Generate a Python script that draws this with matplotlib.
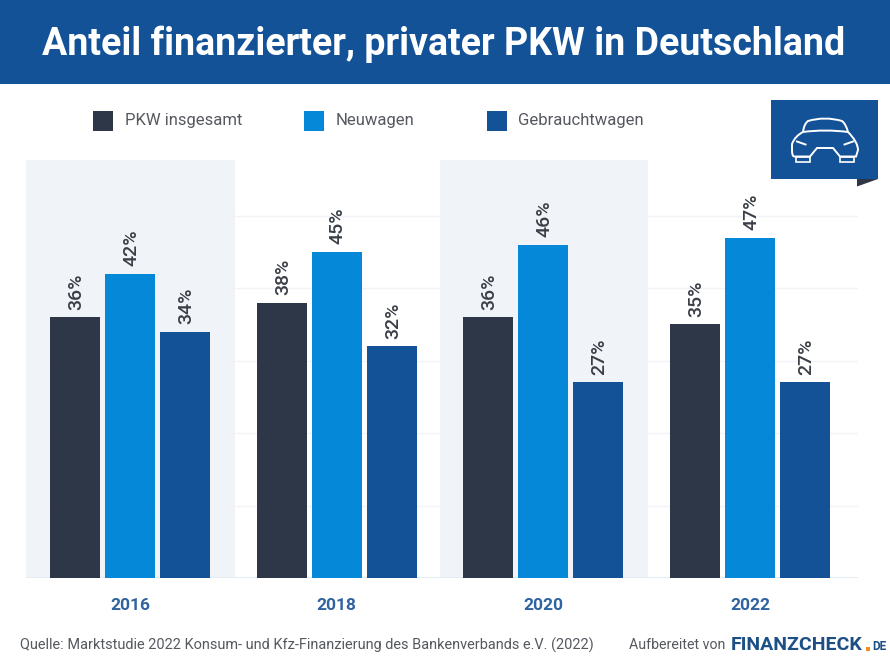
import matplotlib
matplotlib.use("Agg")
import matplotlib.pyplot as plt
import numpy as np
from matplotlib.patches import Rectangle, Polygon, PathPatch
from matplotlib.path import Path

plt.rcParams['font.family'] = ['Roboto', 'DejaVu Sans']

years = ['2016', '2018', '2020', '2022']
gesamt = [36, 38, 36, 35]
neuwagen = [42, 45, 46, 47]
gebraucht = [34, 32, 27, 27]
series_names = ['PKW insgesamt', 'Neuwagen', 'Gebrauchtwagen']
grid_values = [10, 20, 30, 40, 50]

dark = '#2e3748'
light = '#0688d8'
blue = '#145298'
band = '#f0f3f8'

fig = plt.figure(figsize=(8.9, 6.7), dpi=100, facecolor='white')

# overlay in pixels for banner, legend, footer and icon
bg = fig.add_axes([0, 0, 1, 1], zorder=3)
bg.set_xlim(0, 890)
bg.set_ylim(670, 0)
bg.axis('off')
bg.patch.set_alpha(0)

# chart
ax = fig.add_axes([26 / 890, (670 - 578) / 670, 832 / 890, 418 / 670], zorder=1)
x = np.arange(len(years))
ax.set_xlim(-0.503, 3.523)
ax.set_ylim(0, 57.7)
ax.axvspan(-0.503, 0.507, color=band, lw=0, zorder=0)
ax.axvspan(1.5, 2.506, color=band, lw=0, zorder=0)
for g in grid_values:
    ax.axhline(g, color='#f1f3f9', lw=1, zorder=1)
ax.axhline(0, color='#e6eaf3', lw=1.5, zorder=1)

w = 0.242
off = 0.266
for vals, col, d in [(gesamt, dark, -off), (neuwagen, light, 0), (gebraucht, blue, off)]:
    bars = ax.bar(x + d, vals, width=w, color=col, zorder=2)
    for b, v in zip(bars, vals):
        ax.annotate(f'{v}%', (b.get_x() + b.get_width() / 2, v), xytext=(1, 5.5),
                    textcoords='offset points', rotation=90, ha='center', va='bottom',
                    fontsize=14, fontweight='medium', color='#3a3f47')

ax.set_xticks(x)
ax.set_xticklabels(years, fontsize=12.5, fontweight='bold', color='#2f62a0')
ax.tick_params(axis='x', length=0, pad=14.5)
ax.set_yticks([])
for s in ax.spines.values():
    s.set_visible(False)

# title banner
bg.add_patch(Rectangle((0, 0), 890, 84, color=blue, lw=0))
bg.text(443.5, 44, 'Anteil finanzierter, privater PKW in Deutschland', color='white',
        fontsize=27, fontweight='bold', ha='center', va='center')

# legend
for lx, tx, name, col in zip([93, 304, 487], [125, 336, 518], series_names, [dark, light, blue]):
    bg.add_patch(Rectangle((lx, 111), 20, 20, color=col, lw=0))
    bg.text(tx, 121, name, fontsize=12, color='#55595f', va='center', ha='left')

# car icon
bg.add_patch(Rectangle((771, 100), 107, 79, color=blue, lw=0))
bg.add_patch(Polygon([(857, 179), (878, 179), (857, 186.5)], color=dark, lw=0))
M, L, C = Path.MOVETO, Path.LINETO, Path.CURVE3
body = Path([(803, 132), (795, 136), (792, 144), (792, 150), (792, 156), (794, 156.5),
             (810, 156.5), (817, 148), (833, 148), (840, 156.5), (856, 156.5), (858, 150),
             (858, 142), (848, 132)],
            [M, C, C, L, C, C, L, L, L, L, L, L, C, C])
roof = Path([(803, 132), (804, 124), (808, 121), (825, 116), (842, 121), (846, 124), (848, 132),
             (825, 129), (803, 132)],
            [M, C, C, C, C, C, C, C, C])
bg.add_patch(PathPatch(body, fill=False, ec='white', lw=1.4))
bg.add_patch(PathPatch(roof, fill=False, ec='white', lw=1.4))
bg.plot([797, 805.5], [141.5, 144.5], color='white', lw=1.4)
bg.plot([844.5, 853], [144.5, 141.5], color='white', lw=1.4)
bg.add_patch(Rectangle((796, 157), 14, 4.5, fill=False, ec='white', lw=1.2))
bg.add_patch(Rectangle((840, 157), 14, 4.5, fill=False, ec='white', lw=1.2))

# footer
bg.text(20, 645, 'Quelle: Marktstudie 2022 Konsum- und Kfz-Finanzierung des Bankenverbands e.V. (2022)',
        fontsize=10.45, color='#55595f', va='center', ha='left')
bg.text(629, 645, 'Aufbereitet von', fontsize=10.2, color='#55595f', va='center', ha='left')
bg.text(731, 645, 'FINANZCHECK', fontsize=14, fontweight='bold', color='#1c4f86', va='center', ha='left')
bg.add_patch(Rectangle((866, 647), 4, 4, color='#f28c1e', lw=0))
bg.text(872, 646, 'DE', fontsize=8.5, fontweight='bold', color='#1c4f86', va='center', ha='left')

fig.savefig('out.png', dpi=100)
